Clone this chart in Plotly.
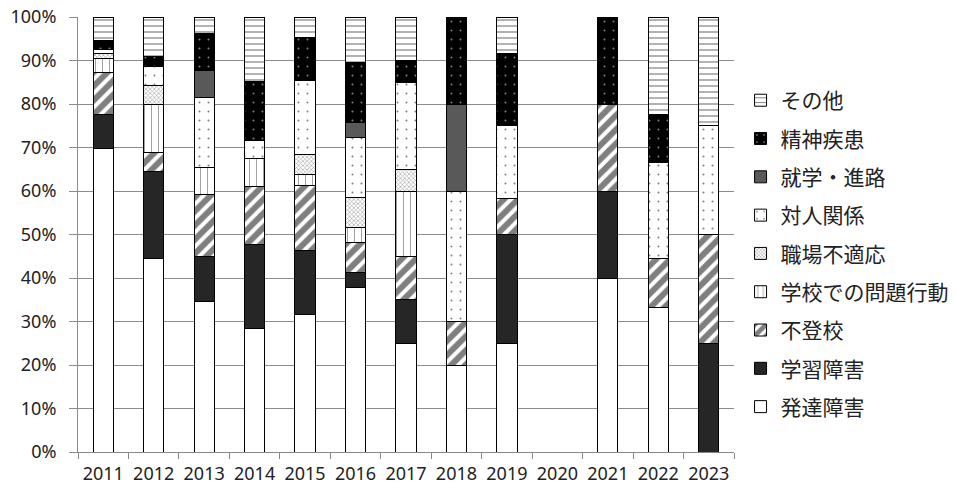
import plotly.graph_objects as go

years = ["2011", "2012", "2013", "2014", "2015", "2016", "2017", "2018", "2019", "2020", "2021", "2022", "2023"]

hattatsu = [69.7, 44.4, 34.7, 28.3, 31.7, 37.9, 25.0, 20.0, 25.0, None, 40.0, 33.3, None]
gakushu = [7.8, 20.0, 10.3, 19.5, 14.6, 3.4, 10.0, None, 25.0, None, 20.0, None, 25.0]
futoko = [9.7, 4.4, 14.3, 13.3, 14.9, 6.9, 10.0, 10.0, 8.3, None, 20.0, 11.1, 25.0]
gakko_mondai = [3.2, 11.1, 6.2, 6.4, 2.5, 3.4, 15.0, None, None, None, None, None, None]
shokuba = [1.1, 4.4, None, None, 4.8, 6.9, 5.0, None, None, None, None, None, None]
taijin = [1.1, 4.4, 16.1, 4.1, 17.0, 13.8, 20.0, 30.0, 16.7, None, None, 22.2, 25.0]
shugaku = [None, None, 6.2, None, None, 3.4, None, 20.0, None, None, None, None, None]
seishin = [2.1, 2.2, 8.3, 13.6, 9.7, 13.8, 5.0, 20.0, 16.7, None, 20.0, 11.1, None]
sonota = [5.3, 8.9, 3.9, 14.7, 4.8, 10.3, 10.0, None, 8.3, None, None, 22.2, 25.0]

series = [
    ("発達障害", hattatsu, dict(color="white")),
    ("学習障害", gakushu, dict(color="#262626")),
    ("不登校", futoko, dict(color="white", pattern=dict(shape="/", size=10, solidity=0.6, fgcolor="black", bgcolor="white", fillmode="overlay"))),
    ("学校での問題行動", gakko_mondai, dict(color="white", pattern=dict(shape="|", size=7, solidity=0.15, fgcolor="#444", bgcolor="white", fillmode="overlay"))),
    ("職場不適応", shokuba, dict(color="white", pattern=dict(shape="x", size=3, solidity=0.4, fgcolor="#555", bgcolor="white", fillmode="overlay"))),
    ("対人関係", taijin, dict(color="white", pattern=dict(shape=".", size=9, solidity=0.04, fgcolor="black", bgcolor="white", fillmode="overlay"))),
    ("就学・進路", shugaku, dict(color="#595959")),
    ("精神疾患", seishin, dict(color="black", pattern=dict(shape=".", size=9, solidity=0.04, fgcolor="white", bgcolor="black", fillmode="overlay"))),
    ("その他", sonota, dict(color="white", pattern=dict(shape="-", size=6, solidity=0.2, fgcolor="black", bgcolor="white", fillmode="overlay"))),
]

fig = go.Figure()
n = len(series)
for i, (name, vals, mk) in enumerate(series):
    marker = dict(mk)
    marker["line"] = dict(color="black", width=1)
    fig.add_trace(go.Bar(x=years, y=vals, name=name, marker=marker,
                         legendgroup=f"g{i}", legendrank=n - i))

fig.update_layout(
    barmode="stack",
    bargap=0.6,
    width=956, height=491,
    margin=dict(l=78, r=222, t=17, b=39, autoexpand=False),
    paper_bgcolor="white", plot_bgcolor="white",
    font=dict(family="Noto Sans, Noto Sans CJK JP", size=18, color="#222"),
    legend=dict(
        x=1.01, xanchor="left", y=0.855, yanchor="top",
        traceorder="grouped", tracegroupgap=8,
        font=dict(family="Noto Sans CJK JP", size=21, color="#222"),
        itemwidth=30,
    ),
    xaxis=dict(
        type="category", showgrid=False, ticks="outside", tickson="boundaries",
        ticklen=6, tickcolor="#888", showline=True, linecolor="#888", linewidth=1,
        automargin=False, ticklabelstandoff=5,
    ),
    yaxis=dict(
        range=[0, 100], dtick=10, ticksuffix="%", showgrid=True, gridcolor="#8c8c8c",
        gridwidth=1, ticks="outside", ticklen=8, tickcolor="#8c8c8c",
        showline=True, linecolor="#8c8c8c", linewidth=1, zeroline=False,
        automargin=False, ticklabelstandoff=9, ticklabeloverflow="allow",
    ),
)

fig.write_html(
    "out.html",
    config={"displayModeBar": False},
    post_script="document.body.style.margin='0';document.body.style.overflow='hidden';",
)
